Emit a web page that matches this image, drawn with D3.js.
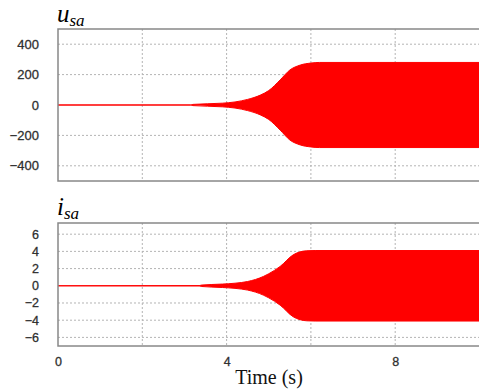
<!DOCTYPE html>
<html>
<head>
<meta charset="utf-8">
<script src="https://cdn.jsdelivr.net/npm/d3@7"></script>
<style>
  html, body { margin: 0; padding: 0; background: #fff; }
  svg { display: block; }
</style>
</head>
<body>
<svg id="chart" width="479" height="392"></svg>
<script>
// Envelope of the stator voltage u_sa (V) over time (s)
const uTime = [0, 3.15, 3.2, 3.9, 4.2, 4.5, 4.8, 5.0, 5.27, 5.5, 5.75, 6.0, 6.2, 10];
const uAmp  = [0, 0.5, 4, 12, 20, 37, 65, 95, 165, 230, 263, 276, 280, 280];

// Envelope of the stator current i_sa (A) over time (s)
const iTime = [0, 3.35, 3.4, 3.9, 4.2, 4.5, 4.87, 5.0, 5.27, 5.58, 5.9, 6.1, 10];
const iAmp  = [0, 0.02, 0.08, 0.2, 0.3, 0.5, 1.08, 1.4, 2.25, 3.6, 4.07, 4.1, 4.1];

const uTicks = [400, 200, 0, -200, -400];
const iTicks = [6, 4, 2, 0, -2, -4, -6];
const timeTicks = [0, 4, 8];
const timeGrid = [2, 4, 6, 8];

const svg = d3.select("#chart");

const x = d3.scaleLinear().domain([0, 10]).range([58, 479.5]);

const panels = [
  { t: uTime, a: uAmp, ticks: uTicks, domain: [-500, 500], range: [181, 29],
    sub: "sa", main: "u", titleY: 22, subY: 26, labelSize: 13 },
  { t: iTime, a: iAmp, ticks: iTicks, domain: [-7, 7.3], range: [346, 223],
    sub: "sa", main: "i", titleY: 215, subY: 219, labelSize: 12.5 }
];

panels.forEach(p => {
  const y = d3.scaleLinear().domain(p.domain).range(p.range);
  const g = svg.append("g");
  const top = p.range[1], bottom = p.range[0];

  // dotted grid
  g.append("g").selectAll("line.h").data(p.ticks.filter(v => v !== 0)).join("line")
    .attr("x1", x(0)).attr("x2", x(10))
    .attr("y1", d => y(d)).attr("y2", d => y(d))
    .attr("stroke", "#b4b4b4").attr("stroke-width", 1).attr("stroke-dasharray", "2,2");
  g.append("g").selectAll("line.v").data(timeGrid).join("line")
    .attr("x1", d => x(d)).attr("x2", d => x(d))
    .attr("y1", top).attr("y2", bottom)
    .attr("stroke", "#b4b4b4").attr("stroke-width", 1).attr("stroke-dasharray", "2,2");

  // oscillating signal shown as its filled envelope
  const pts = p.t.map((tv, i) => ({ t: tv, a: p.a[i] }));
  const area = d3.area()
    .x(d => x(d.t))
    .y0(d => y(-d.a))
    .y1(d => y(d.a))
    .curve(d3.curveMonotoneX);
  g.append("path").datum(pts).attr("d", area)
    .attr("fill", "#ff0000").attr("stroke", "#ff0000").attr("stroke-width", 1);

  // frame
  g.append("rect")
    .attr("x", x(0)).attr("y", top)
    .attr("width", x(10) - x(0) + 5).attr("height", bottom - top)
    .attr("fill", "none").attr("stroke", "#888").attr("stroke-width", 1.5);

  // y axis labels
  const yAxis = d3.axisLeft(y).tickValues(p.ticks).tickSize(0).tickPadding(0);
  const ag = g.append("g").attr("transform", "translate(39,0)").call(yAxis);
  ag.select(".domain").remove();
  ag.selectAll("text")
    .attr("font-family", "Liberation Sans, Arial, sans-serif")
    .attr("font-size", p.labelSize).attr("fill", "#222")
    .attr("stroke", "#444").attr("stroke-width", 0.3);

  // panel title
  const title = g.append("text").attr("x", 57).attr("y", p.titleY)
    .attr("font-family", "Liberation Serif, Times New Roman, serif")
    .attr("font-style", "italic").attr("fill", "#000");
  title.append("tspan").attr("font-size", 25).text(p.main);
  title.append("tspan").attr("font-size", 17).attr("dy", p.subY - p.titleY).text(p.sub);
});

// time axis labels
const xAxis = d3.axisBottom(x).tickValues(timeTicks).tickSize(0).tickPadding(0);
const xg = svg.append("g").attr("transform", "translate(0,357)").call(xAxis);
xg.select(".domain").remove();
xg.selectAll("text")
  .attr("font-family", "Liberation Sans, Arial, sans-serif")
  .attr("font-size", 12.5).attr("fill", "#222")
  .attr("stroke", "#444").attr("stroke-width", 0.3);

svg.append("text").attr("x", 269).attr("y", 384).attr("text-anchor", "middle")
  .attr("font-family", "Liberation Serif, Times New Roman, serif")
  .attr("font-size", 20).attr("fill", "#111").text("Time (s)");
</script>
</body>
</html>
